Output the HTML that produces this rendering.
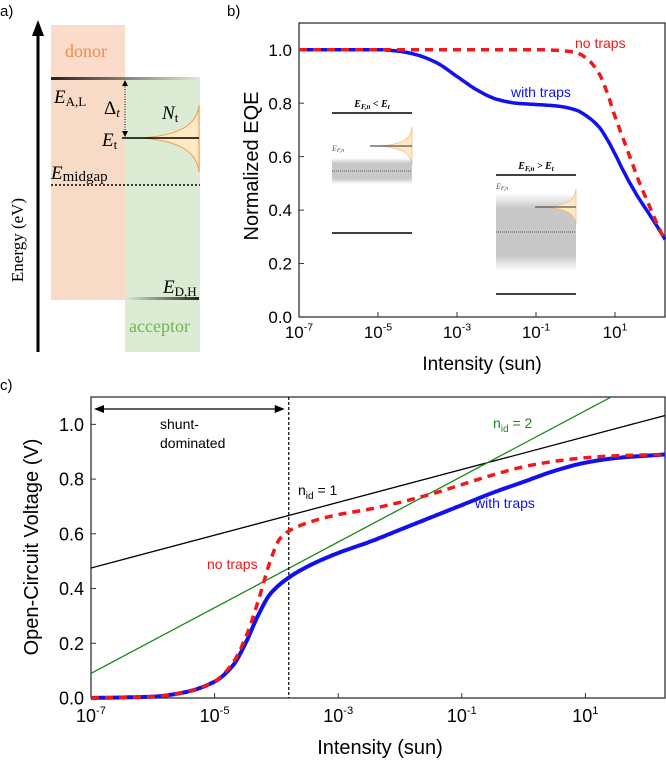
<!DOCTYPE html>
<html><head><meta charset="utf-8"><style>
html,body{margin:0;padding:0;background:#fff;}
svg{display:block;font-family:"Liberation Sans",Arial,sans-serif;}
.serif{font-family:"Liberation Serif","DejaVu Serif",serif;}
</style></head><body>
<svg id="fig" width="666" height="762" viewBox="0 0 666 762">
<defs>
<linearGradient id="gEAL" x1="0" x2="1"><stop offset="0" stop-color="#222"/><stop offset="1" stop-color="#222" stop-opacity="0"/></linearGradient>
<linearGradient id="gEDH" x1="0" x2="1"><stop offset="0" stop-color="#222" stop-opacity="0"/><stop offset="1" stop-color="#222"/></linearGradient>
<linearGradient id="gGray1" x1="0" y1="0" x2="0" y2="1"><stop offset="0" stop-color="#ccc" stop-opacity="0"/><stop offset="0.2" stop-color="#c8c8c8"/><stop offset="0.8" stop-color="#c8c8c8"/><stop offset="1" stop-color="#ccc" stop-opacity="0"/></linearGradient>
<linearGradient id="gDot" x1="0" x2="1"><stop offset="0" stop-color="#555"/><stop offset="1" stop-color="#555" stop-opacity="0"/></linearGradient>
</defs>
<g>
<text x="0" y="16" font-size="15">a)</text>
<rect x="51" y="25" width="74" height="275" fill="#fbdccb"/>
<rect x="125" y="77" width="75" height="275" fill="#dcebd3"/>
<rect x="51" y="77" width="74" height="223" fill="#f3d9c4" opacity="0.5"/>
<line x1="38" y1="352" x2="38" y2="34" stroke="#000" stroke-width="3"/>
<polygon points="38,20 32,36 44,36" fill="#000"/>
<text transform="translate(23,240) rotate(-90)" text-anchor="middle" font-size="17" class="serif">Energy (eV)</text>
<text x="65" y="57" font-size="18" fill="#f08a4b" class="serif">donor</text>
<text x="129" y="332" font-size="18" fill="#6fb84e" class="serif">acceptor</text>
<rect x="51" y="77" width="150" height="3" fill="url(#gEAL)"/>
<rect x="125" y="297" width="74" height="3" fill="url(#gEDH)"/>
<path d="M199,105 C197,125 180,135 142,138 C180,141 197,152 199,172 Z" fill="#fde9c4" stroke="#f09a55" stroke-width="1"/>
<line x1="122" y1="138" x2="199" y2="138" stroke="#000" stroke-width="1.5"/>
<line x1="51" y1="185" x2="200" y2="185" stroke="#000" stroke-width="1.5" stroke-dasharray="2,2"/>
<line x1="125" y1="84" x2="125" y2="133" stroke="#000" stroke-width="1" stroke-dasharray="1,1.5"/>
<polygon points="125,80 122,86 128,86" fill="#000"/><polygon points="125,137 122,131 128,131" fill="#000"/>
<text x="54" y="103" font-size="19" class="serif" font-style="italic">E<tspan font-size="13" font-style="normal" dy="3">A,L</tspan></text>
<text x="104" y="114" font-size="19" class="serif">Δ<tspan font-size="13" font-style="italic" dy="3">t</tspan></text>
<text x="162" y="119" font-size="19" class="serif" font-style="italic">N<tspan font-size="13" font-style="normal" dy="3">t</tspan></text>
<text x="102" y="146" font-size="19" class="serif" font-style="italic">E<tspan font-size="13" font-style="normal" dy="3">t</tspan></text>
<text x="51" y="179" font-size="19" class="serif" font-style="italic">E<tspan font-size="15" font-style="normal" dy="2">midgap</tspan></text>
<text x="163" y="293" font-size="19" class="serif" font-style="italic">E<tspan font-size="13" font-style="normal" dy="3">D,H</tspan></text>
</g>
<g id="pb">
<text x="227" y="16" font-size="15">b)</text>
<g>
<text x="372" y="107" font-size="10" text-anchor="middle" class="serif" font-style="italic" font-weight="bold">E<tspan font-size="7" dy="2">F,n</tspan><tspan dy="-2"> &lt; E</tspan><tspan font-size="7" dy="2">t</tspan></text>
<line x1="332" y1="113" x2="412" y2="113" stroke="#000" stroke-width="1.5"/>
<rect x="332" y="158" width="80" height="26" fill="url(#gGray1)"/>
<line x1="332" y1="155" x2="372" y2="155" stroke="url(#gDot)" stroke-dasharray="1,1"/>
<line x1="332" y1="171" x2="412" y2="171" stroke="#555" stroke-dasharray="1,1"/>
<line x1="332" y1="187" x2="372" y2="187" stroke="url(#gDot)" stroke-dasharray="1,1"/>
<path d="M412,127 C411,140 402,144 380,146 C402,148 411,153 412,165 Z" fill="#fde9c4" stroke="#f4b27a" stroke-width="0.7"/>
<line x1="370" y1="146" x2="412" y2="146" stroke="#555" stroke-width="1.2"/>
<text x="332" y="151" font-size="8" class="serif" font-style="italic" fill="#555">E<tspan font-size="6" dy="1">F,n</tspan></text>
<line x1="332" y1="233" x2="412" y2="233" stroke="#000" stroke-width="1.5"/>
</g>
<g>
<text x="536" y="169" font-size="10" text-anchor="middle" class="serif" font-style="italic" font-weight="bold">E<tspan font-size="7" dy="2">F,n</tspan><tspan dy="-2"> &gt; E</tspan><tspan font-size="7" dy="2">t</tspan></text>
<line x1="496" y1="175" x2="576" y2="175" stroke="#000" stroke-width="1.5"/>
<rect x="496" y="193" width="80" height="78" fill="url(#gGray1)"/>
<line x1="496" y1="193" x2="536" y2="193" stroke="url(#gDot)" stroke-dasharray="1,1"/>
<line x1="496" y1="232" x2="576" y2="232" stroke="#555" stroke-dasharray="1,1"/>
<line x1="496" y1="272" x2="536" y2="272" stroke="url(#gDot)" stroke-dasharray="1,1"/>
<path d="M576,189 C575,202 566,205 545,207 C566,209 575,213 576,225 Z" fill="#fde9c4" stroke="#f4b27a" stroke-width="0.7"/>
<line x1="535" y1="207" x2="576" y2="207" stroke="#555" stroke-width="1.2"/>
<text x="496" y="189" font-size="8" class="serif" font-style="italic" fill="#555">E<tspan font-size="6" dy="1">F,n</tspan></text>
<line x1="496" y1="294" x2="576" y2="294" stroke="#000" stroke-width="1.5"/>
</g>
</g>
<g id="pc">
<text x="0" y="390" font-size="15">c)</text>
</g>
</svg>
<script>
// ---- Panel b data ----
const bLogX_traps = [-7,-5,-4.5,-4,-3.5,-3,-2.5,-2,-1.5,-1,-0.5,0,0.3,0.6,0.8,1,1.2,1.4,1.6,1.8,2,2.27];
const bEQE_traps  = [1,1,0.995,0.98,0.95,0.9,0.85,0.815,0.8,0.795,0.79,0.775,0.75,0.71,0.665,0.61,0.55,0.495,0.445,0.4,0.355,0.29];
const bLogX_none  = [-7,-1,-0.5,0,0.3,0.6,0.8,1,1.2,1.4,1.6,1.8,2,2.27];
const bEQE_none   = [1,1,0.998,0.99,0.965,0.91,0.84,0.75,0.67,0.59,0.51,0.44,0.37,0.285];
const bYTicks = [0,0.2,0.4,0.6,0.8,1.0];
const bXTicks = [-7,-5,-3,-1,1];
// ---- Panel c data ----
const cLogX_traps = [-7,-6,-5.5,-5,-4.7,-4.5,-4.3,-4.1,-3.8,-3.5,-3,-2.5,-2,-1.5,-1,-0.5,0,0.5,1,1.5,2.29];
const cVoc_traps  = [0,0.005,0.02,0.06,0.12,0.2,0.3,0.38,0.44,0.48,0.53,0.57,0.615,0.66,0.705,0.75,0.79,0.83,0.86,0.877,0.89];
const cLogX_none  = [-7,-6,-5.5,-5,-4.7,-4.5,-4.3,-4.1,-3.95,-3.8,-3.5,-3,-2.5,-2,-1.5,-1,-0.5,0,0.5,1,1.5,2.29];
const cVoc_none   = [0,0.005,0.02,0.06,0.13,0.22,0.35,0.5,0.58,0.61,0.64,0.67,0.69,0.715,0.745,0.78,0.815,0.845,0.865,0.878,0.885,0.89];
const cIdeal1 = [0.475, 0.06];
const cIdeal2 = [0.09, 0.12];
const cShuntLogX = -3.8;
const cYTicks = [0,0.2,0.4,0.6,0.8,1.0];
const cXTicks = [-7,-5,-3,-1,1];

const NS="http://www.w3.org/2000/svg";
function mk(parent,tag,attrs){const e=document.createElementNS(NS,tag);for(const k in attrs)e.setAttribute(k,attrs[k]);parent.appendChild(e);return e;}
function axes(L,R,T,B,xmin,xmax,ymin,ymax){
  return [v=>L+(v-xmin)/(xmax-xmin)*(R-L), v=>B-(v-ymin)/(ymax-ymin)*(B-T)];
}
function pathOf(xs,ys,sx,sy){return xs.map((x,i)=>(i?'L':'M')+sx(x).toFixed(1)+','+sy(ys[i]).toFixed(1)).join(' ');}
function smooth(xs,ys){
  const n=xs.length,d=[],m=[];
  for(let i=0;i<n-1;i++)d.push((ys[i+1]-ys[i])/(xs[i+1]-xs[i]));
  m.push(d[0]);
  for(let i=1;i<n-1;i++){ if(d[i-1]*d[i]<=0)m.push(0); else { const w1=2*(xs[i+1]-xs[i])+(xs[i]-xs[i-1]),w2=(xs[i+1]-xs[i])+2*(xs[i]-xs[i-1]); m.push((w1+w2)/(w1/d[i-1]+w2/d[i])); } }
  m.push(d[n-2]);
  const X=[],Y=[];
  for(let i=0;i<n-1;i++){
    const h=xs[i+1]-xs[i];
    for(let k=0;k<20;k++){const t=k/20,t2=t*t,t3=t2*t;
      X.push(xs[i]+t*h);
      Y.push((2*t3-3*t2+1)*ys[i]+(t3-2*t2+t)*h*m[i]+(-2*t3+3*t2)*ys[i+1]+(t3-t2)*h*m[i+1]);}
  }
  X.push(xs[n-1]);Y.push(ys[n-1]);return [X,Y];
}
function drawFrame(g,L,R,T,B,sx,sy,xt,yt,fs,xlabY,ylabX){
  mk(g,'rect',{x:L,y:T,width:R-L,height:B-T,fill:'none',stroke:'#333','stroke-width':1.3});
  yt.forEach(v=>{
    const l=mk(g,'line',{x1:L,x2:L+5,y1:sy(v),y2:sy(v),stroke:'#333'});
    
    
    const t=mk(g,'text',{x:ylabX,y:sy(v)+fs*0.36,'text-anchor':'end','font-size':fs});
    t.textContent=v.toFixed(1);
    
    
  });
  xt.forEach(v=>{
    if(v>-7){const l=mk(g,'line',{x1:sx(v),x2:sx(v),y1:B,y2:B-5,stroke:'#333'});
    
    }
    const t=mk(g,'text',{x:sx(v),y:xlabY,'text-anchor':'middle','font-size':fs});
    t.innerHTML='10<tspan font-size="'+(fs*0.62)+'" dy="-'+(fs*0.45)+'">'+v+'</tspan>';
    
    
  });
}
(function(){
  const g=document.getElementById('pb');
  const L=299,R=665,T=23,B=317;
  const [sx,sy]=axes(L,R,T,B,-7,-7+(R-L)/39.5,0,1.1);
  drawFrame(g,L,R,T,B,sx,sy,bXTicks,bYTicks,17,338,292);
  let [X,Y]=smooth(bLogX_traps,bEQE_traps);
  const p1=mk(g,'path',{d:pathOf(X,Y,sx,sy),fill:'none',stroke:'#1010f0','stroke-width':3.5});
  
  
  [X,Y]=smooth(bLogX_none,bEQE_none);
  const p2=mk(g,'path',{d:pathOf(X,Y,sx,sy),fill:'none',stroke:'#f01818','stroke-width':3.5,'stroke-dasharray':'8,6'});
  
  
  const t1=mk(g,'text',{x:575,y:48,'font-size':14,fill:'#f01818'});t1.textContent='no traps';
  
  
  const t2=mk(g,'text',{x:511,y:97,'font-size':14,fill:'#1010f0'});t2.textContent='with traps';
  
  
  const yt=mk(g,'text',{transform:'translate(258,166) rotate(-90)','text-anchor':'middle','font-size':20});yt.textContent='Normalized EQE';
  
  
  const xt=mk(g,'text',{x:482,y:370,'text-anchor':'middle','font-size':19});xt.textContent='Intensity (sun)';
  
  
})();
(function(){
  const g=document.getElementById('pc');
  const L=91,R=665,T=397,B=698;
  const xmax=-7+(R-L)/61.8;
  const [sx,sy]=axes(L,R,T,B,-7,xmax,0,1.1);
  const cp=mk(g,'clipPath',{id:'cclip'});mk(cp,'rect',{x:L,y:T,width:R-L,height:B-T});
  drawFrame(g,L,R,T,B,sx,sy,cXTicks,cYTicks,18,722,84);
  const lines=[[cIdeal1,'#000','ideality-1-line'],[cIdeal2,'#1a8a1a','ideality-2-line']];
  lines.forEach(([c,col,nm])=>{
    const l=mk(g,'line',{x1:sx(-7),y1:sy(c[0]),x2:sx(xmax),y2:sy(c[0]+c[1]*(xmax+7)),stroke:col,'stroke-width':1.3,'clip-path':'url(#cclip)'});
    
    
  });
  const v=mk(g,'line',{x1:sx(cShuntLogX),x2:sx(cShuntLogX),y1:T,y2:B,stroke:'#000','stroke-dasharray':'3,2','stroke-width':1.2});
  
  
  const a=mk(g,'line',{x1:L+10,x2:sx(cShuntLogX)-10,y1:409,y2:409,stroke:'#000','stroke-width':1.3});
  
  
  mk(g,'polygon',{points:(L+3)+',409 '+(L+13)+',405 '+(L+13)+',413',fill:'#000'});
  const ax=sx(cShuntLogX)-4;
  mk(g,'polygon',{points:ax+',409 '+(ax-10)+',405 '+(ax-10)+',413',fill:'#000'});
  let [X,Y]=smooth(cLogX_traps,cVoc_traps);
  const p1=mk(g,'path',{d:pathOf(X,Y,sx,sy),fill:'none',stroke:'#1010f0','stroke-width':4});
  
  
  [X,Y]=smooth(cLogX_none,cVoc_none);
  const p2=mk(g,'path',{d:pathOf(X,Y,sx,sy),fill:'none',stroke:'#f01818','stroke-width':3.5,'stroke-dasharray':'8,6'});
  
  
  const labels=[['shunt-',160,429,'#000','shunt-label'],['dominated',160,448,'#000','dominated-label'],['no traps',207,569,'#f01818','c-no-traps-label'],['with traps',475,508,'#1010f0','c-with-traps-label']];
  labels.forEach(([s,x,y,c,nm])=>{const t=mk(g,'text',{x:x,y:y,'font-size':14,fill:c});t.textContent=s;
    
    });
  const n1=mk(g,'text',{x:298,y:495,'font-size':14});n1.innerHTML='n<tspan font-size="10" dy="4">id</tspan><tspan dy="-4"> = 1</tspan>';
  
  
  const n2=mk(g,'text',{x:493,y:428,'font-size':14,fill:'#1a8a1a'});n2.innerHTML='n<tspan font-size="10" dy="4">id</tspan><tspan dy="-4"> = 2</tspan>';
  
  
  const yt=mk(g,'text',{transform:'translate(38,547) rotate(-90)','text-anchor':'middle','font-size':20});yt.textContent='Open-Circuit Voltage (V)';
  
  
  const xt=mk(g,'text',{x:380,y:754,'text-anchor':'middle','font-size':20});xt.textContent='Intensity (sun)';
  
  
})();
</script>
</body></html>
